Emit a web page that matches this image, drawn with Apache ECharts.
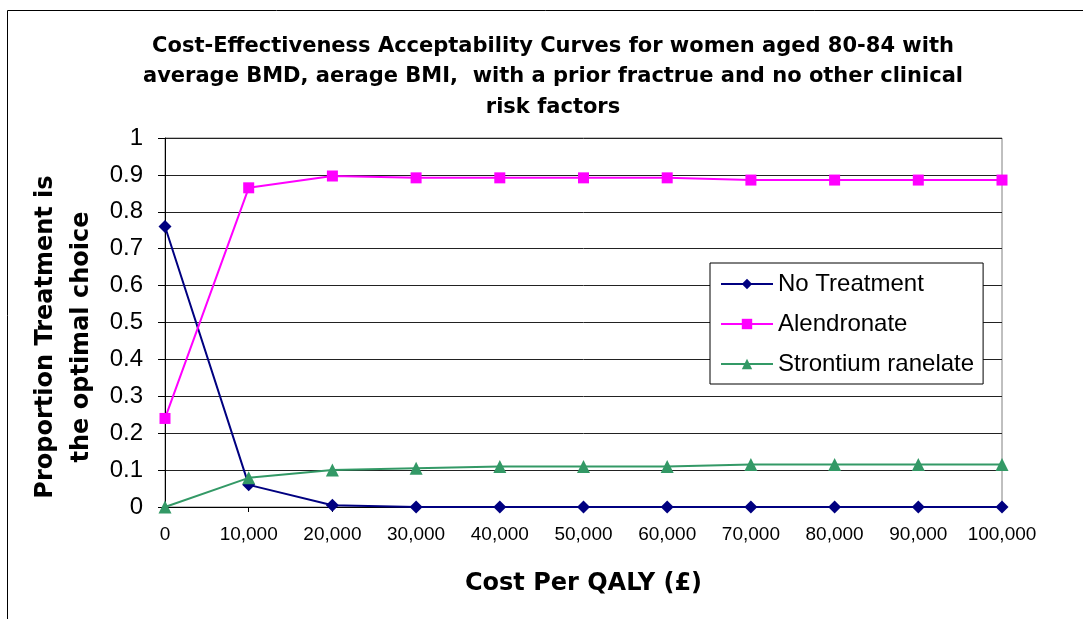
<!DOCTYPE html>
<html><head><meta charset="utf-8">
<script src="https://cdn.jsdelivr.net/npm/echarts@6/dist/echarts.min.js"></script>
<style>html,body{margin:0;padding:0;background:#fff}#c{width:1083px;height:619px}</style>
</head><body><div id="c"></div>
<script>
const categories = ['0','10,000','20,000','30,000','40,000','50,000','60,000','70,000','80,000','90,000','100,000'];
const noTreatment = [0.76, 0.06, 0.005, 0, 0, 0, 0, 0, 0, 0, 0];
const alendronate = [0.24, 0.865, 0.897, 0.892, 0.892, 0.892, 0.892, 0.886, 0.886, 0.886, 0.886];
const strontium = [0, 0.079, 0.1, 0.105, 0.11, 0.11, 0.11, 0.115, 0.115, 0.115, 0.115];

const F = 'Liberation Sans, Arial, sans-serif';
const FB = 'DejaVu Sans, Liberation Sans, sans-serif';
const chart = echarts.init(document.getElementById('c'));
chart.setOption({
  animation: false,
  title: {
    text: 'Cost-Effectiveness Acceptability Curves for women aged 80-84 with\naverage BMD, aerage BMI,  with a prior fractrue and no other clinical\nrisk factors',
    left: 548, top: 26, textAlign: 'center',
    textStyle: {fontFamily: FB, fontSize: 21, fontWeight: 'bold', color: '#000', lineHeight: 30.5}
  },
  graphic: [
    {type: 'rect', shape: {x: 7.5, y: 10.5, width: 1090, height: 620}, style: {fill: 'none', stroke: '#000', lineWidth: 1}, silent: true, z: -1},
    {type: 'text', x: 64, y: 337, rotation: Math.PI / 2, silent: true,
     style: {text: 'Proportion Treatment is\nthe optimal choice', font: 'bold 24px ' + FB, fill: '#000',
             textAlign: 'center', textVerticalAlign: 'middle', lineHeight: 36}}
  ],
  legend: {
    orient: 'vertical', left: 710, top: 263,
    backgroundColor: '#fff', borderColor: '#000', borderWidth: 1,
    padding: [9, 9, 8, 10], itemGap: 16, itemWidth: 52, itemHeight: 13,
    textStyle: {fontFamily: F, fontSize: 24, color: '#000', lineHeight: 24},
    data: ['No Treatment', 'Alendronate', 'Strontium ranelate']
  },
  grid: {left: 165, right: 81, top: 138, bottom: 112, show: true, borderColor: '#808080', borderWidth: 1, backgroundColor: '#fff'},
  xAxis: {
    type: 'category', data: categories, boundaryGap: false,
    axisLine: {lineStyle: {color: '#000', width: 1}},
    axisTick: {show: true, alignWithLabel: true, interval: 0, length: 5, lineStyle: {color: '#000'}},
    axisLabel: {fontFamily: F, fontSize: 19, color: '#000', margin: 18, interval: 0},
    splitLine: {show: false},
    name: 'Cost Per QALY (£)', nameLocation: 'middle', nameGap: 65,
    nameTextStyle: {fontFamily: FB, fontSize: 24, fontWeight: 'bold', color: '#000'}
  },
  yAxis: {
    type: 'value', min: 0, max: 1, interval: 0.1,
    axisLine: {show: true, lineStyle: {color: '#000', width: 1}},
    axisTick: {show: true, inside: false, length: 7, lineStyle: {color: '#000'}},
    axisLabel: {fontFamily: F, fontSize: 24, color: '#000', margin: 22, formatter: v => String(Math.round(v*10)/10)},
    splitLine: {show: true, lineStyle: {color: '#222', width: 1}}
  },
  series: [
    {name: 'No Treatment', type: 'line', data: noTreatment, symbol: 'diamond', symbolSize: 13,
     color: '#000080', lineStyle: {width: 2, color: '#000080'}, itemStyle: {color: '#000080'}},
    {name: 'Alendronate', type: 'line', data: alendronate, symbol: 'rect', symbolSize: 11,
     color: '#FF00FF', lineStyle: {width: 2, color: '#FF00FF'}, itemStyle: {color: '#FF00FF'}},
    {name: 'Strontium ranelate', type: 'line', data: strontium, symbol: 'triangle', symbolSize: 13,
     color: '#339966', lineStyle: {width: 2, color: '#339966'}, itemStyle: {color: '#339966'}}
  ]
});
</script></body></html>
